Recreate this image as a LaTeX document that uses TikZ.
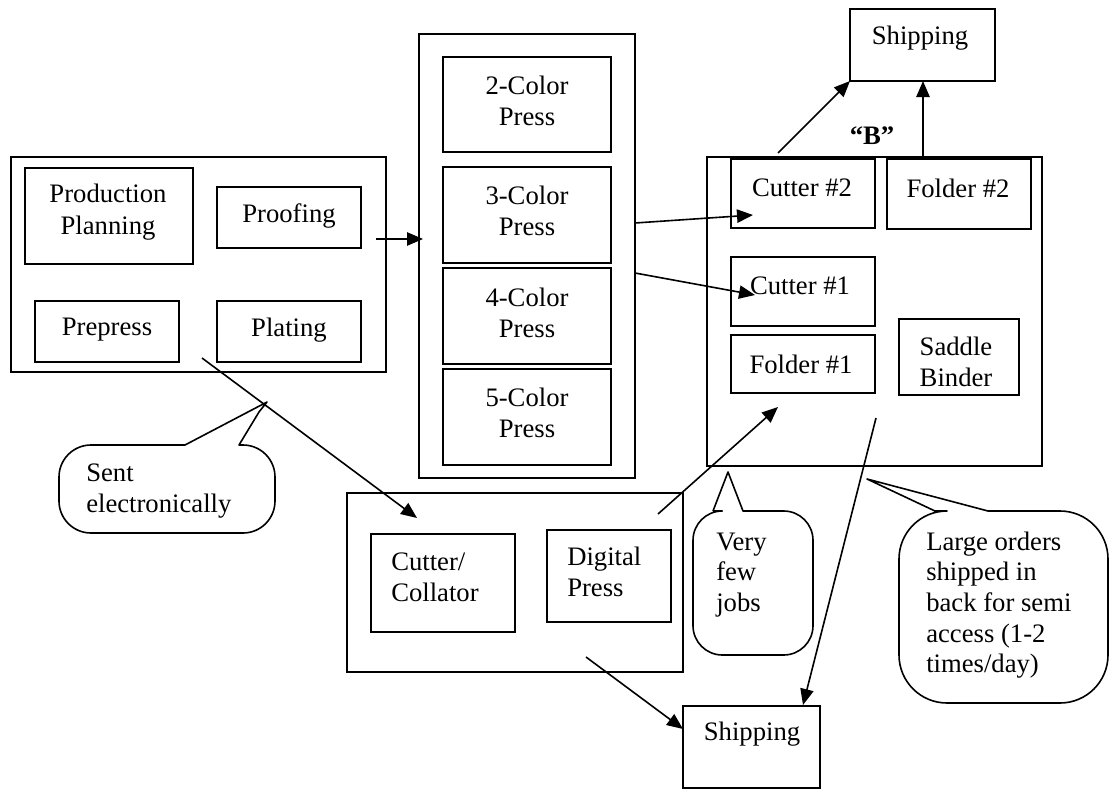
\documentclass[tikz,border=0pt]{standalone}
\usepackage{fontspec}
\setmainfont{Liberation Serif}
\usetikzlibrary{arrows.meta,fit}
\begin{document}
\begin{tikzpicture}[x=0.75pt,y=-0.75pt,
  box/.style={draw, line width=1.4pt, inner sep=0pt},
  txt/.style={font=\fontsize{20}{23.5}\selectfont, inner sep=0pt, align=center},
  ltxt/.style={font=\fontsize{20}{23}\selectfont, inner sep=0pt, align=left, anchor=west},
  arr/.style={line width=1.2pt, -{Triangle[length=12pt,width=10pt]}},
  cbox/.style={draw, line width=1.2pt, line join=round}]
\useasboundingbox (0,0) rectangle (1110,789);

% ---- left group
\node[box, fit={(11,157) (386,372)}] (pre) {};
\node[box, fit={(25,168) (193,264)}] (pp) {};
\node[box, fit={(217,187) (361,248)}] (proof) {};
\node[box, fit={(35,301) (179,362)}] (prepress) {};
\node[box, fit={(217,301) (361,362)}] (plating) {};
\node[txt] (ppt) at (108,212) {Production\\Planning};
\node[txt] (prooft) at (289,216) {Proofing};
\node[txt] (prepresst) at (107,330) {Prepress};
\node[txt] (platingt) at (289,330) {Plating};

% ---- presses
\node[box, fit={(419,34) (635,478)}] (presses) {};
\node[box, fit={(443,57) (611,152)}] (c2) {};
\node[box, fit={(443,167) (611,263)}] (c3) {};
\node[box, fit={(443,268) (611,364)}] (c4) {};
\node[box, fit={(443,369) (611,465)}] (c5) {};
\node[txt] (c2t) at (527,101) {2-Color\\Press};
\node[txt] (c3t) at (527,211) {3-Color\\Press};
\node[txt] (c4t) at (527,313) {4-Color\\Press};
\node[txt] (c5t) at (527,413) {5-Color\\Press};

% ---- finishing
\node[box, fit={(707,157) (1042,466)}] (fin) {};
\node[box, fit={(731,159) (875,228)}] (cut2) {};
\node[box, fit={(887,159) (1031,229)}] (fold2) {};
\node[box, fit={(731,257) (875,326)}] (cut1) {};
\node[box, fit={(731,335) (875,393)}] (fold1) {};
\node[box, fit={(899,319) (1019,395)}] (saddle) {};
\node[txt] (cut2t) at (802,188) {Cutter \#2};
\node[txt] (fold2t) at (958,188) {Folder \#2};
\node[txt] (cut1t) at (800,286) {Cutter \#1};
\node[txt] (fold1t) at (801,364) {Folder \#1};
\node[txt] (saddlet) at (956,362) {Saddle\\Binder};

% ---- shipping
\node[box, fit={(850,9) (995,81)}] (ship1) {};
\node[txt] (ship1t) at (920,38) {Shipping};
\node[box, fit={(683,706) (820,788)}] (ship2) {};
\node[txt] (ship2t) at (752,734) {Shipping};
\node[font=\bfseries\fontsize{20}{24}\selectfont, inner sep=0pt] (bq) at (872,136) {“B”};

% ---- digital
\node[box, fit={(347,493) (683,672)}] (dig) {};
\node[box, fit={(371,534) (515,632)}] (coll) {};
\node[box, fit={(547,530) (671,622)}] (dpress) {};
\node[ltxt] (collt) at (391,577) {Cutter/\\Collator};
\node[ltxt] (dpresst) at (567,572) {Digital\\Press};

% ---- callouts
\draw[cbox] (185,445) -- (267,402) -- (259,412) -- (239,445) [rounded corners=24] -- (275,445) -- (275,533) -- (59,533) -- (59,445) -- (185,445);
\node[ltxt] (sent) at (86,491) {Sent\\electronically};

\draw[cbox] (713,511) -- (728,472) -- (743,511) [rounded corners=22] -- (813,511) -- (813,655) -- (693,655) -- (693,511) -- (713,511);
\node[ltxt] (few) at (716,575) {Very\\few\\jobs};

\draw[cbox] (935,511) -- (867,479) -- (988,511) [rounded corners=36] -- (1108,511) -- (1108,703) -- (899,703) -- (899,511) -- (935,511);
\node[ltxt] (large) at (926,605) {Large orders\\shipped in\\back for semi\\access (1-2\\times/day)};

% ---- connector end points
\coordinate (a1s) at (376,239);   \coordinate (a1e) at (423,239);
\coordinate (a2s) at (635,223);   \coordinate (a2e) at (753,215);
\coordinate (a3s) at (635,273);   \coordinate (a3e) at (755,295);
\coordinate (a4s) at (778,153);   \coordinate (a4e) at (850,81);
\coordinate (a5s) at (923,157);   \coordinate (a5e) at (923,81);
\coordinate (a6s) at (202,358);   \coordinate (a6e) at (417,518);
\coordinate (a7s) at (658,514);   \coordinate (a7e) at (778,407);
\coordinate (a8s) at (876,418);   \coordinate (a8e) at (803,705);
\coordinate (a9s) at (586,657);   \coordinate (a9e) at (683,729);

\draw[arr] (a1s) -- (a1e);
\draw[arr] (a2s) -- (a2e);
\draw[arr] (a3s) -- (a3e);
\draw[arr] (a4s) -- (a4e);
\draw[arr] (a5s) -- (a5e);
\draw[arr] (a6s) -- (a6e);
\draw[arr] (a7s) -- (a7e);
\draw[arr] (a8s) -- (a8e);
\draw[arr] (a9s) -- (a9e);
\end{tikzpicture}
\end{document}
